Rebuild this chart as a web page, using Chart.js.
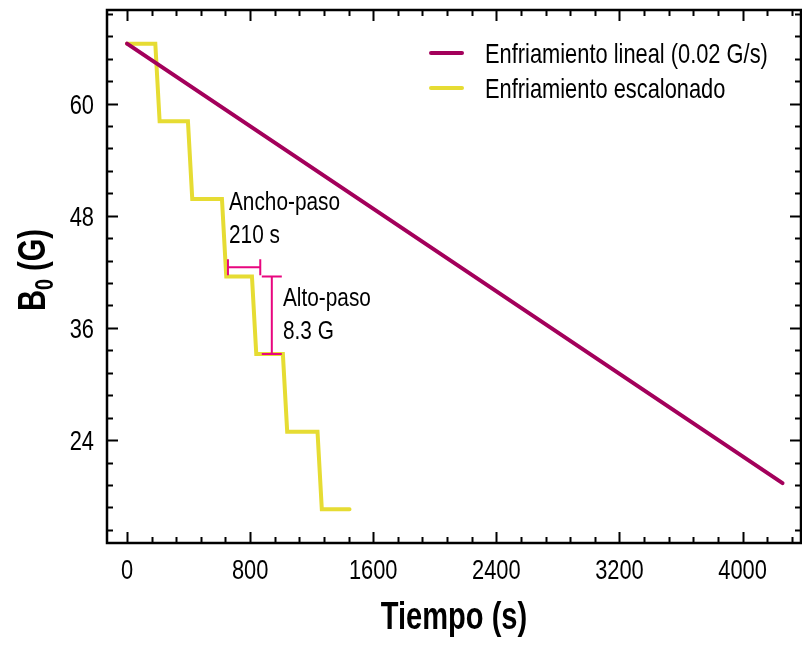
<!DOCTYPE html>
<html>
<head>
<meta charset="utf-8">
<script src="https://cdn.jsdelivr.net/npm/chart.js@4/dist/chart.umd.min.js"></script>
<style>
  html, body { margin: 0; padding: 0; background: #ffffff; }
  #wrap { width: 802px; height: 646px; }
</style>
</head>
<body>
<div id="wrap"><canvas id="chart" width="802" height="646"></canvas></div>
<script>
// Linear cooling ramp: time (s) and field (G)
const linearTime  = [0, 4260];
const linearField = [66.4, 19.4];

// Stepped cooling: time (s) and field (G) at each corner of the staircase
const stepTime  = [0, 184, 212, 396, 424, 617, 645, 812, 840, 1013, 1041, 1238, 1266, 1446];
const stepField = [66.4, 66.4, 58.1, 58.1, 49.8, 49.8, 41.5, 41.5, 33.2, 33.2, 24.9, 24.9, 16.6, 16.6];

// Step size markers
const stepWidthSeconds = 210;   // "Ancho-paso"
const stepWidthCenter  = 761;   // s
const stepWidthLevel   = 42.5;  // G
const stepHeightGauss  = 8.3;   // "Alto-paso"
const stepHeightCenter = 37.35; // G
const stepHeightTime   = 941;   // s

// Axis ticks
const xMajorTicks = [0, 800, 1600, 2400, 3200, 4000];
const xTickLabels = ['0', '800', '1600', '2400', '3200', '4000'];
const yMajorTicks = [24, 36, 48, 60];
const yTickLabels = ['24', '36', '48', '60'];
const xMinorStep = 160;
const yMinorStep = 2.4;

const seriesNames = ['Enfriamiento lineal (0.02 G/s)', 'Enfriamiento escalonado'];

const FONT = '"Liberation Sans", Arial, sans-serif';
const COL_LINEAR = '#a3005b';
const COL_STEP = '#e6dc33';
const COL_MARK = '#e8067f';

function pairs(xs, ys) { return xs.map((x, i) => ({ x: x, y: ys[i] })); }

// narrow (horizontally condensed) text
function narrowText(ctx, text, x, y, sx, align) {
  ctx.save();
  ctx.translate(x, y);
  ctx.scale(sx, 1);
  ctx.textAlign = align;
  ctx.fillText(text, 0, 0);
  ctx.restore();
}

// Frame, inward ticks on all four sides, tick labels, legend, titles and step markers
const decorations = {
  id: 'decorations',
  afterDatasetsDraw(chart) {
    const ctx = chart.ctx;
    const a = chart.chartArea;
    const xs = chart.scales.x, ys = chart.scales.y;
    ctx.save();

    // step markers
    ctx.strokeStyle = COL_MARK;
    ctx.lineWidth = 2;
    ctx.lineCap = 'butt';
    const wx0 = xs.getPixelForValue(stepWidthCenter - stepWidthSeconds / 2);
    const wx1 = xs.getPixelForValue(stepWidthCenter + stepWidthSeconds / 2);
    const wy = ys.getPixelForValue(stepWidthLevel);
    ctx.beginPath();
    ctx.moveTo(wx0, wy); ctx.lineTo(wx1, wy);
    ctx.moveTo(wx0, wy - 8); ctx.lineTo(wx0, wy + 8);
    ctx.moveTo(wx1, wy - 8); ctx.lineTo(wx1, wy + 8);
    ctx.stroke();
    const hx = xs.getPixelForValue(stepHeightTime);
    const hy0 = ys.getPixelForValue(stepHeightCenter + stepHeightGauss / 2);
    const hy1 = ys.getPixelForValue(stepHeightCenter - stepHeightGauss / 2);
    ctx.beginPath();
    ctx.moveTo(hx, hy0); ctx.lineTo(hx, hy1);
    ctx.moveTo(hx - 10, hy0); ctx.lineTo(hx + 10, hy0);
    ctx.moveTo(hx - 10, hy1); ctx.lineTo(hx + 10, hy1);
    ctx.stroke();

    ctx.fillStyle = '#000';
    ctx.textBaseline = 'alphabetic';
    ctx.font = '26px ' + FONT;
    const hc = ys.getPixelForValue(stepHeightCenter);
    narrowText(ctx, 'Ancho-paso', 229, 210, 0.8, 'left');
    narrowText(ctx, stepWidthSeconds + ' s', 229, 243, 0.8, 'left');
    narrowText(ctx, 'Alto-paso', 283, 306, 0.8, 'left');
    narrowText(ctx, stepHeightGauss + ' G', 283, 339, 0.8, 'left');

    // frame
    ctx.strokeStyle = '#000';
    ctx.lineWidth = 2.5;
    ctx.strokeRect(a.left, a.top, a.right - a.left, a.bottom - a.top);

    // ticks
    ctx.lineWidth = 2;
    ctx.lineCap = 'butt';
    ctx.beginPath();
    const startX = Math.ceil(xs.min / xMinorStep) * xMinorStep;
    for (let i = 0; startX + i * xMinorStep <= xs.max; i++) {
      const v = startX + i * xMinorStep;
      const major = xMajorTicks.some(t => Math.abs(t - v) < 1e-6);
      const len = major ? 11 : 6;
      const p = Math.round(xs.getPixelForValue(v)) + 0.5;
      ctx.moveTo(p, a.bottom); ctx.lineTo(p, a.bottom - len);
      ctx.moveTo(p, a.top); ctx.lineTo(p, a.top + len);
    }
    const startY = yMajorTicks[0] - Math.floor((yMajorTicks[0] - ys.min) / yMinorStep) * yMinorStep;
    for (let i = 0; startY + i * yMinorStep <= ys.max + 1e-6; i++) {
      const v = startY + i * yMinorStep;
      const major = yMajorTicks.some(t => Math.abs(t - v) < 1e-6);
      const len = major ? 11 : 6;
      const p = Math.round(ys.getPixelForValue(v)) + 0.5;
      ctx.moveTo(a.left, p); ctx.lineTo(a.left + len, p);
      ctx.moveTo(a.right, p); ctx.lineTo(a.right - len, p);
    }
    ctx.stroke();

    // tick labels
    ctx.fillStyle = '#000';
    ctx.font = '28px ' + FONT;
    ctx.textBaseline = 'alphabetic';
    xMajorTicks.forEach((v, i) => {
      narrowText(ctx, xTickLabels[i], xs.getPixelForValue(v), 579, 0.78, 'center');
    });
    yMajorTicks.forEach((v, i) => {
      narrowText(ctx, yTickLabels[i], 94, ys.getPixelForValue(v) + 10, 0.78, 'right');
    });

    // legend
    const legendRows = [
      { text: seriesNames[0], color: chart.data.datasets[0].borderColor, y: 53 },
      { text: seriesNames[1], color: chart.data.datasets[1].borderColor, y: 88 }
    ];
    legendRows.forEach(r => {
      ctx.strokeStyle = r.color;
      ctx.lineWidth = 4;
      ctx.lineCap = 'round';
      ctx.beginPath();
      ctx.moveTo(431, r.y); ctx.lineTo(462, r.y);
      ctx.stroke();
      ctx.fillStyle = '#000';
      ctx.font = '28px ' + FONT;
      narrowText(ctx, r.text, 485, r.y + 10, 0.78, 'left');
    });

    // axis titles
    ctx.fillStyle = '#000';
    ctx.font = 'bold 38px ' + FONT;
    narrowText(ctx, 'Tiempo (s)', (a.left + a.right) / 2, 629, 0.765, 'center');

    const sx = 0.765;
    ctx.translate(45, 270);
    ctx.rotate(-Math.PI / 2);
    ctx.scale(sx, 1);
    const bigFont = 'bold 38px ' + FONT;
    const subFont = 'bold 26px ' + FONT;
    ctx.font = bigFont;
    const wB = ctx.measureText('B').width;
    const wRest = ctx.measureText(' (G)').width;
    ctx.font = subFont;
    const w0 = ctx.measureText('0').width;
    let x = -(wB + w0 + wRest) / 2;
    ctx.textAlign = 'left';
    ctx.font = bigFont;
    ctx.fillText('B', x, 0); x += wB;
    ctx.font = subFont;
    ctx.fillText('0', x, 8); x += w0;
    ctx.font = bigFont;
    ctx.fillText(' (G)', x, 0);
    ctx.restore();
  }
};

new Chart(document.getElementById('chart'), {
  type: 'scatter',
  data: {
    datasets: [
      {
        label: seriesNames[0],
        data: pairs(linearTime, linearField),
        showLine: true,
        borderColor: COL_LINEAR,
        borderWidth: 4,
        borderCapStyle: 'round',
        pointRadius: 0
      },
      {
        label: seriesNames[1],
        data: pairs(stepTime, stepField),
        showLine: true,
        borderColor: COL_STEP,
        borderWidth: 4,
        borderCapStyle: 'round',
        borderJoinStyle: 'miter',
        pointRadius: 0
      }
    ]
  },
  options: {
    responsive: false,
    animation: false,
    layout: { padding: { top: 10, right: 1, left: 0, bottom: 0 } },
    plugins: { legend: { display: false }, tooltip: { enabled: false } },
    scales: {
      x: {
        type: 'linear',
        min: -130,
        max: 4380,
        grid: { display: false, drawTicks: false },
        border: { display: false },
        ticks: { display: false },
        afterBuildTicks(scale) { scale.ticks = xMajorTicks.map(v => ({ value: v })); },
        afterFit(scale) { scale.height = 103; }
      },
      y: {
        type: 'linear',
        min: 13,
        max: 70,
        grid: { display: false, drawTicks: false },
        border: { display: false },
        ticks: { display: false },
        afterBuildTicks(scale) { scale.ticks = yMajorTicks.map(v => ({ value: v })); },
        afterFit(scale) { scale.width = 107; }
      }
    }
  },
  plugins: [decorations]
});
</script>
</body>
</html>
